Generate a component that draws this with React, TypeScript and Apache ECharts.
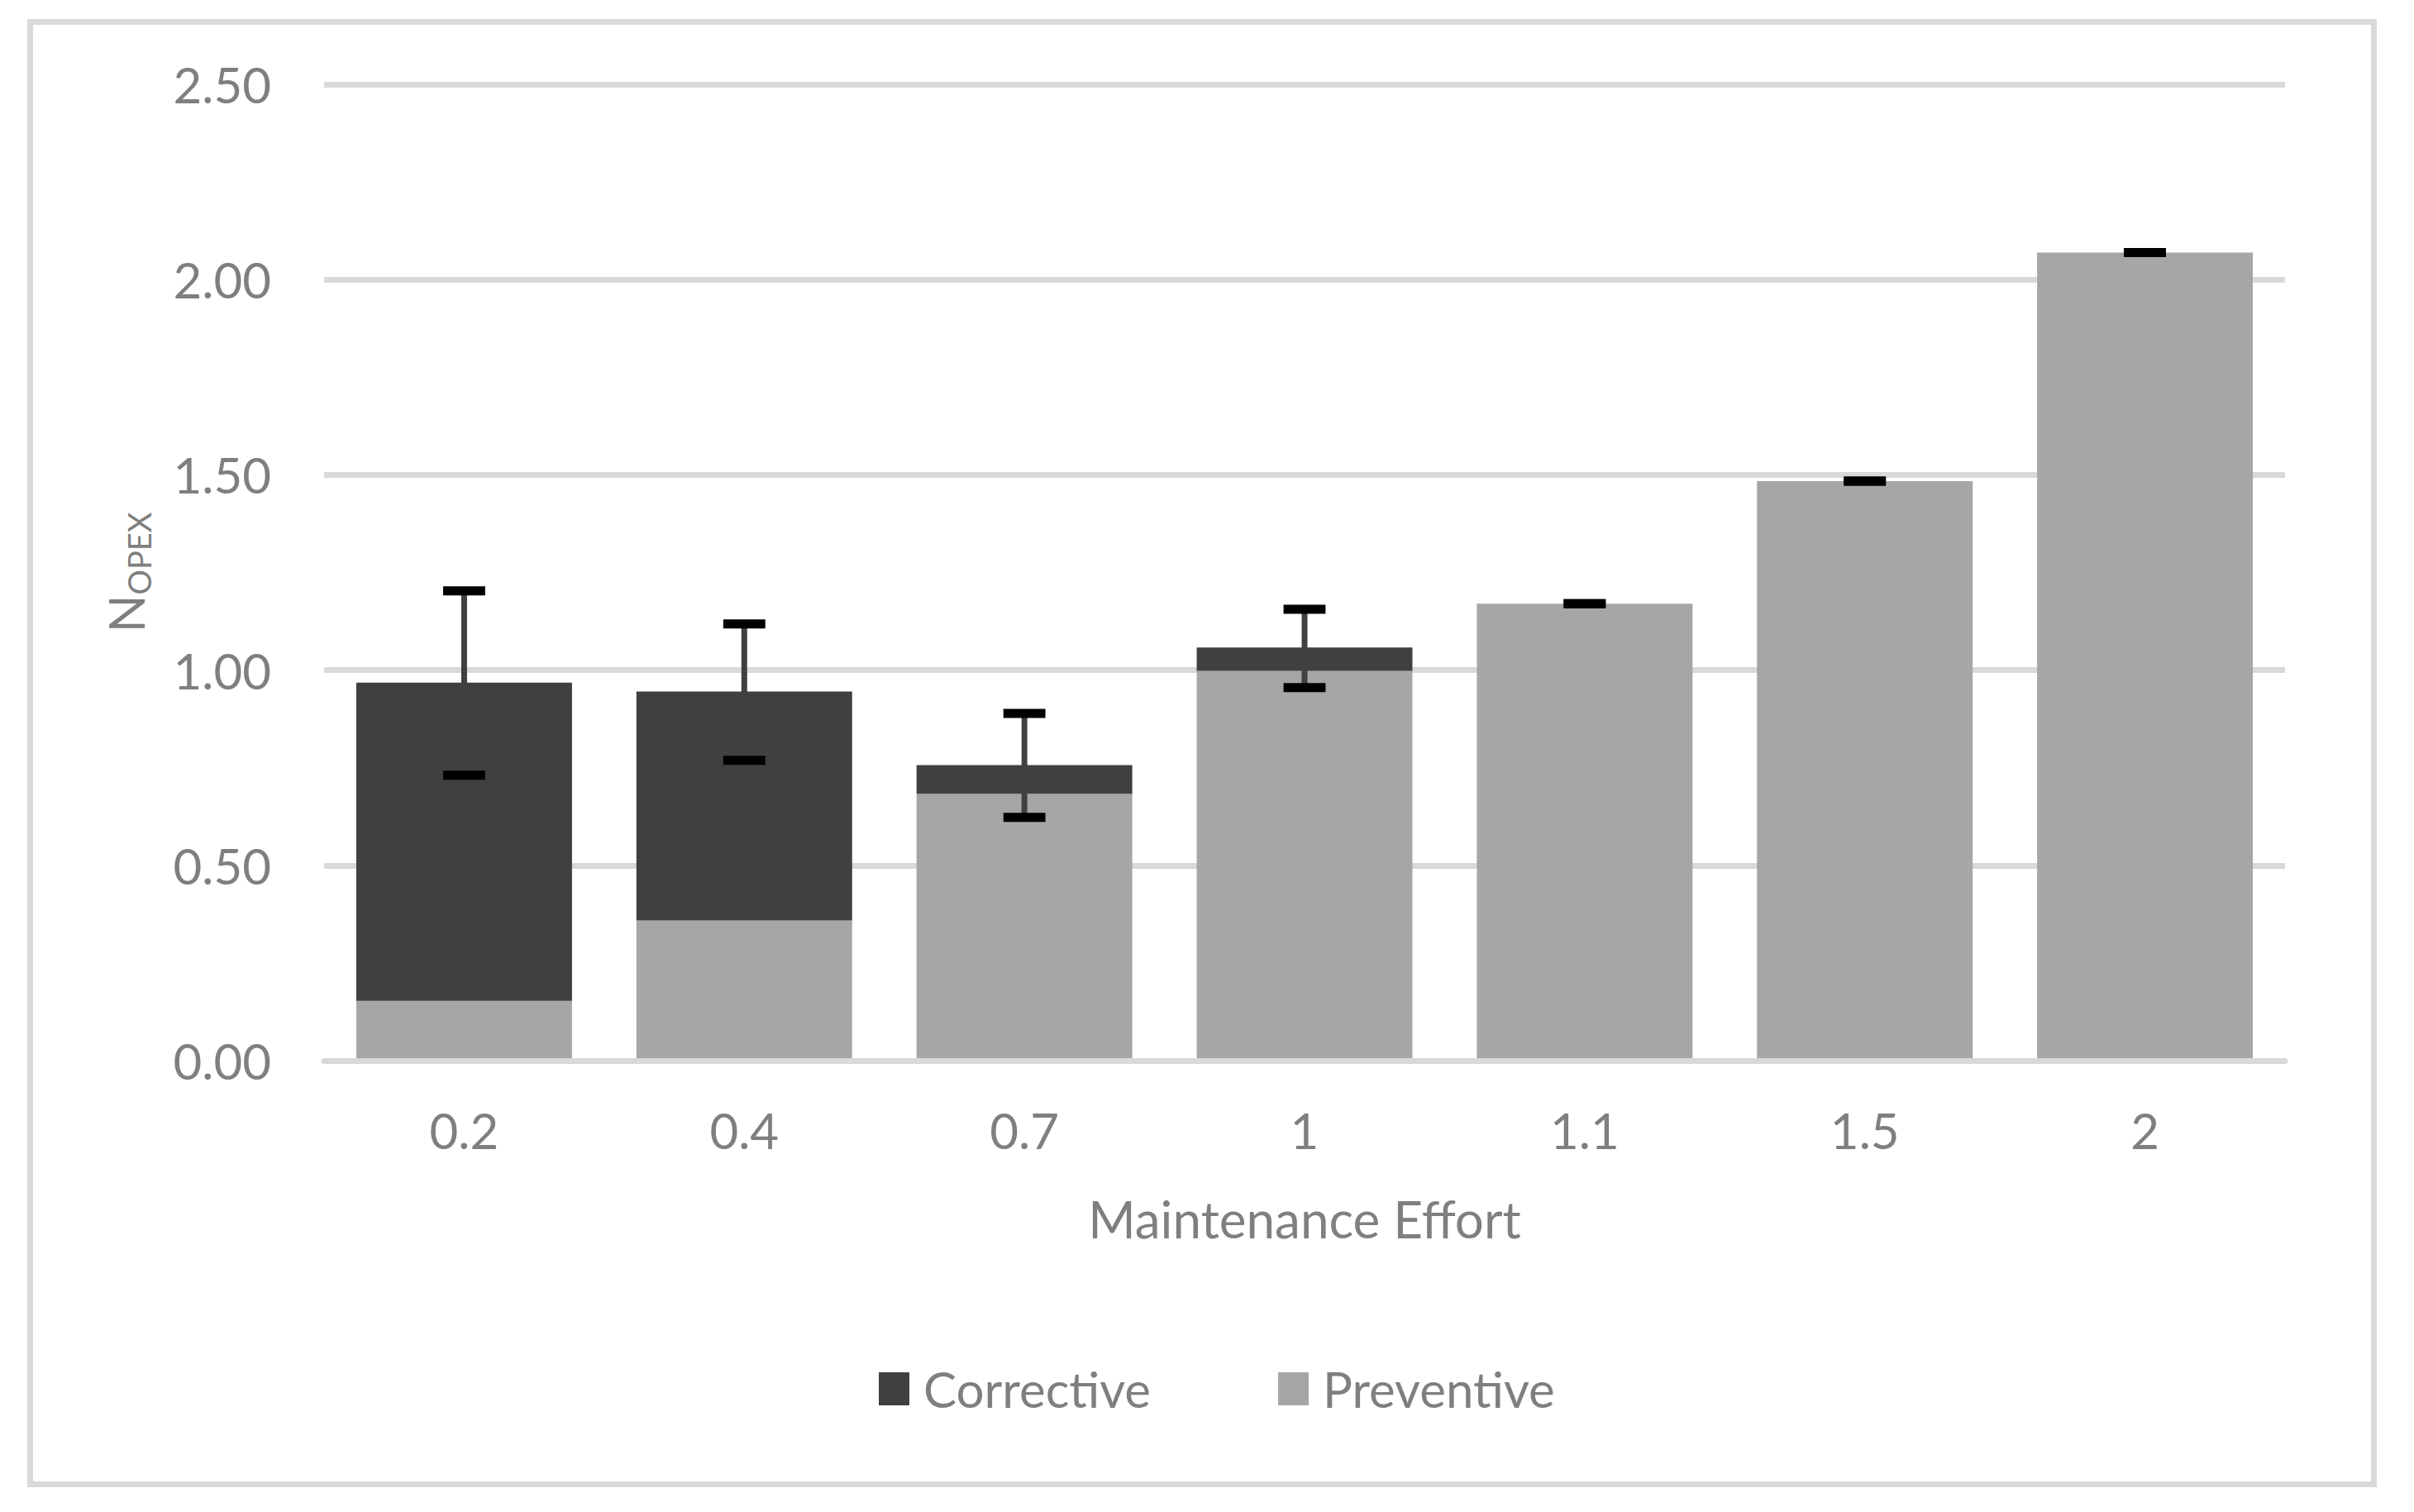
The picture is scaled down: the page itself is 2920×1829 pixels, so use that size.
import React, { useEffect, useRef } from "react";
import * as echarts from "echarts";

const categories = ["0.2", "0.4", "0.7", "1", "1.1", "1.5", "2"];
const preventive = [0.153, 0.359, 0.683, 0.998, 1.17, 1.484, 2.069];
const corrective = [0.815, 0.586, 0.074, 0.06, 0, 0, 0];
const errorLow = [0.731, 0.769, 0.623, 0.955, 1.17, 1.484, 2.069];
const errorHigh = [1.203, 1.118, 0.889, 1.156, 1.17, 1.484, 2.069];

const FONT = "Lato";
const TEXT = "#7f7f7f";

export default function App() {
  const ref = useRef<HTMLDivElement>(null);
  useEffect(() => {
    if (!ref.current) return;
    const chart = echarts.init(ref.current, null, { renderer: "svg" });
    const errData = categories.map((_, i) => [i, errorLow[i], errorHigh[i]]);
    const legendBase = {
      top: 1650,
      padding: 0,
      itemWidth: 37,
      itemHeight: 40,
      icon: "rect",
      textStyle: { color: TEXT, fontSize: 60, fontFamily: FONT, lineHeight: 40, padding: [0, 0, 0, 12] },
      selectedMode: false,
    };
    chart.setOption({
      animation: false,
      backgroundColor: "#ffffff",
      textStyle: { fontFamily: FONT },
      graphic: [
        {
          type: "rect",
          shape: { x: 36.5, y: 26.5, width: 2835, height: 1769 },
          style: { fill: "none", stroke: "#d9d9d9", lineWidth: 7 },
          silent: true,
        },
      ],
      legend: [
        { ...legendBase, data: ["Corrective"], left: 1063 },
        { ...legendBase, data: ["Preventive"], left: 1546 },
      ],
      grid: {
        left: 392,
        right: 156,
        top: 102,
        bottom: 546,
        containLabel: false,
        outerBoundsMode: "none",
      },
      xAxis: {
        type: "category",
        data: categories,
        z: 5,
        axisLine: { show: true, lineStyle: { color: "#d9d9d9", width: 7 } },
        axisTick: { show: false },
        axisLabel: { color: TEXT, fontSize: 60, fontFamily: FONT, margin: 54 },
        name: "Maintenance Effort",
        nameLocation: "middle",
        nameGap: 160,
        nameTextStyle: { color: TEXT, fontSize: 62, fontFamily: FONT },
      },
      yAxis: {
        type: "value",
        min: 0,
        max: 2.5,
        interval: 0.5,
        axisLine: { show: false },
        axisTick: { show: false },
        axisLabel: {
          color: TEXT,
          fontSize: 60,
          fontFamily: FONT,
          margin: 64,
          formatter: (v: number) => v.toFixed(2),
        },
        splitLine: { show: true, lineStyle: { color: "#d9d9d9", width: 7 } },
        name: "{n|N}{s|OPEX}",
        nameLocation: "middle",
        nameGap: 205,
        nameTextStyle: {
          color: TEXT,
          fontFamily: FONT,
          rich: {
            n: { fontSize: 60, lineHeight: 70, color: TEXT, fontFamily: FONT },
            s: {
              fontSize: 38,
              lineHeight: 40,
              color: TEXT,
              fontFamily: FONT,
              verticalAlign: "bottom",
              padding: [47, 0, 0, 0],
            },
          },
        },
      },
      series: [
        {
          name: "Preventive",
          type: "bar",
          stack: "total",
          data: preventive,
          barCategoryGap: "23%",
          itemStyle: { color: "#a6a6a6" },
        },
        {
          name: "Corrective",
          type: "bar",
          stack: "total",
          data: corrective,
          barCategoryGap: "23%",
          itemStyle: { color: "#404040" },
        },
        {
          name: "error",
          type: "custom",
          data: errData,
          encode: { x: 0, y: [1, 2] },
          z: 4,
          renderItem: (params: any, api: any) => {
            const x = api.value(0);
            const lo = api.coord([x, api.value(1)]);
            const hi = api.coord([x, api.value(2)]);
            const catW = api.size([1, 0])[0];
            const capW = catW * 0.15;
            const capH = 11;
            return {
              type: "group",
              children: [
                {
                  type: "line",
                  shape: { x1: lo[0], y1: lo[1], x2: hi[0], y2: hi[1] },
                  style: { stroke: "#404040", lineWidth: 7 },
                },
                {
                  type: "rect",
                  shape: { x: lo[0] - capW / 2, y: lo[1] - capH / 2, width: capW, height: capH },
                  style: { fill: "#000000" },
                },
                {
                  type: "rect",
                  shape: { x: hi[0] - capW / 2, y: hi[1] - capH / 2, width: capW, height: capH },
                  style: { fill: "#000000" },
                },
              ],
            };
          },
        },
      ],
    });
    return () => chart.dispose();
  }, []);
  return (
    <div
      ref={ref}
      style={{ position: "fixed", left: 0, top: 0, width: 2920, height: 1829, background: "#fff" }}
    />
  );
}
